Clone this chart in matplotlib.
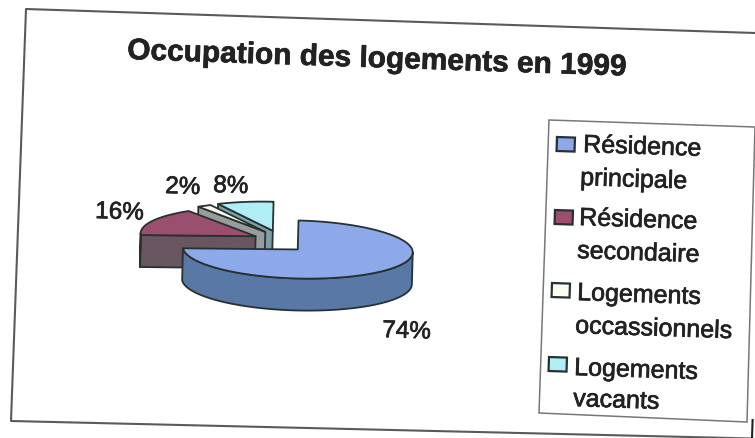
import numpy as np
import matplotlib
matplotlib.use("Agg")
import matplotlib.pyplot as plt
import matplotlib.patheffects as pe
from matplotlib.patches import Polygon
from matplotlib.transforms import Affine2D

plt.rcParams['font.family'] = ['Liberation Sans', 'DejaVu Sans']

titre = "Occupation des logements en 1999"
categories = ["Résidence principale", "Résidence secondaire",
              "Logements occassionnels", "Logements vacants"]
valeurs = [74, 16, 2, 8]
couleurs_dessus = ["#8EA9EA", "#9B4F6E", "#FBFBF2", "#AEEEF4"]
couleurs_cote = ["#5A78A6", "#6A5660", "#9A9C9C", "#7F9FA8"]

# pixels de l'image, y vers le bas
fig = plt.figure(figsize=(7.55, 4.38), dpi=100)
ax = fig.add_axes([0, 0, 1, 1])
ax.set_xlim(0, 755)
ax.set_ylim(438, 0)
ax.axis("off")

penche = 1.9  # le scan est de travers
trait = "#263232"
gras = [pe.withStroke(linewidth=0.5, foreground="#222222")]  # encre du scan

# cadre
gris = "#5a5a5a"
ax.plot([755, 26, 11, 752.5], [33, 9, 421, 438.5], color=gris, lw=1.5)
ax.plot([752.6, 752], [420, 438], color="#222222", lw=1.5)

ax.text(127, 59, titre, fontsize=21.5, fontweight="bold", color="#222222",
        rotation=-penche, rotation_mode="anchor", ha="left", va="baseline",
        path_effects=gras)

# camembert
cx, cy = 279, 241.5
rx, ry = 115, 29
haut = 32
ecart = 26
ecart_y = 0.42
tr = Affine2D().rotate_deg_around(cx, cy, 1.5) + ax.transData


def point(px, py, a):
    return np.column_stack([px + rx*np.sin(a), py - ry*np.cos(a)])


def face(pts, couleur):
    ax.add_patch(Polygon(pts, closed=True, facecolor=couleur, edgecolor=trait,
                         lw=1.3, joinstyle="round", transform=tr))


bords = np.cumsum([0] + valeurs) / 100 * 2*np.pi
parts = []
for i in range(len(valeurs)):
    parts.append((i, bords[i], bords[i+1]))

# du fond vers l'avant
for i, a1, a2 in [parts[3], parts[2], parts[1], parts[0]]:
    mid = (a1 + a2) / 2
    px = cx + ecart*np.sin(mid)
    py = cy - ecart*ecart_y*np.cos(mid)
    sommet = np.array([[px, py]])
    bas = np.array([0, haut])

    # parois droites visibles
    if -np.cos(a1 - np.pi/2) > 1e-6:
        p = point(px, py, np.array([a1]))
        face(np.vstack([sommet, p, p + bas, sommet + bas]), couleurs_cote[i])
    if -np.cos(a2 + np.pi/2) > 1e-6:
        p = point(px, py, np.array([a2]))
        face(np.vstack([sommet, p, p + bas, sommet + bas]), couleurs_cote[i])

    # paroi arrondie, seulement la moitie avant
    d = max(a1, np.pi/2)
    f = min(a2, 3*np.pi/2)
    if f > d:
        arc = point(px, py, np.linspace(d, f, 80))
        face(np.vstack([arc, (arc + bas)[::-1]]), couleurs_cote[i])

    t = np.linspace(a1, a2, 120)
    face(np.vstack([sommet, point(px, py, t)]), couleurs_dessus[i])

# pourcentages
pos_pct = [(382, 337), (95, 218), (165, 193), (213, 192)]
for v, (x, y) in zip(valeurs, pos_pct):
    ax.text(x, y, str(v) + "%", fontsize=17.5, color="#222222",
            rotation=-penche, rotation_mode="anchor", ha="left", va="baseline",
            path_effects=gras)

# legende
ax.add_patch(Polygon([(549, 120), (755, 127), (747, 422), (539, 413)], closed=True,
                     facecolor="white", edgecolor="#777777", lw=1.1))
pos_carre = [(557, 137), (555, 210), (552, 283), (549, 357)]
pos_txt = [[(583, 152), (580, 185)], [(579, 225), (577, 258)],
           [(577, 300), (575, 333)], [(574, 375), (573, 406)]]
for i, cat in enumerate(categories):
    x, y = pos_carre[i]
    r = Affine2D().rotate_deg_around(x, y, penche) + ax.transData
    ax.add_patch(Polygon([(x, y), (x+18, y), (x+18, y+14), (x, y+14)], closed=True,
                         facecolor=couleurs_dessus[i], edgecolor=trait, lw=1.6, transform=r))
    lignes = cat.split(" ")
    for txt, (tx, ty) in zip(lignes, pos_txt[i]):
        ax.text(tx, ty, txt, fontsize=18, color="#222222",
                rotation=-penche, rotation_mode="anchor", ha="left", va="baseline",
                path_effects=gras)

fig.savefig("out.png", dpi=100, facecolor="white")
